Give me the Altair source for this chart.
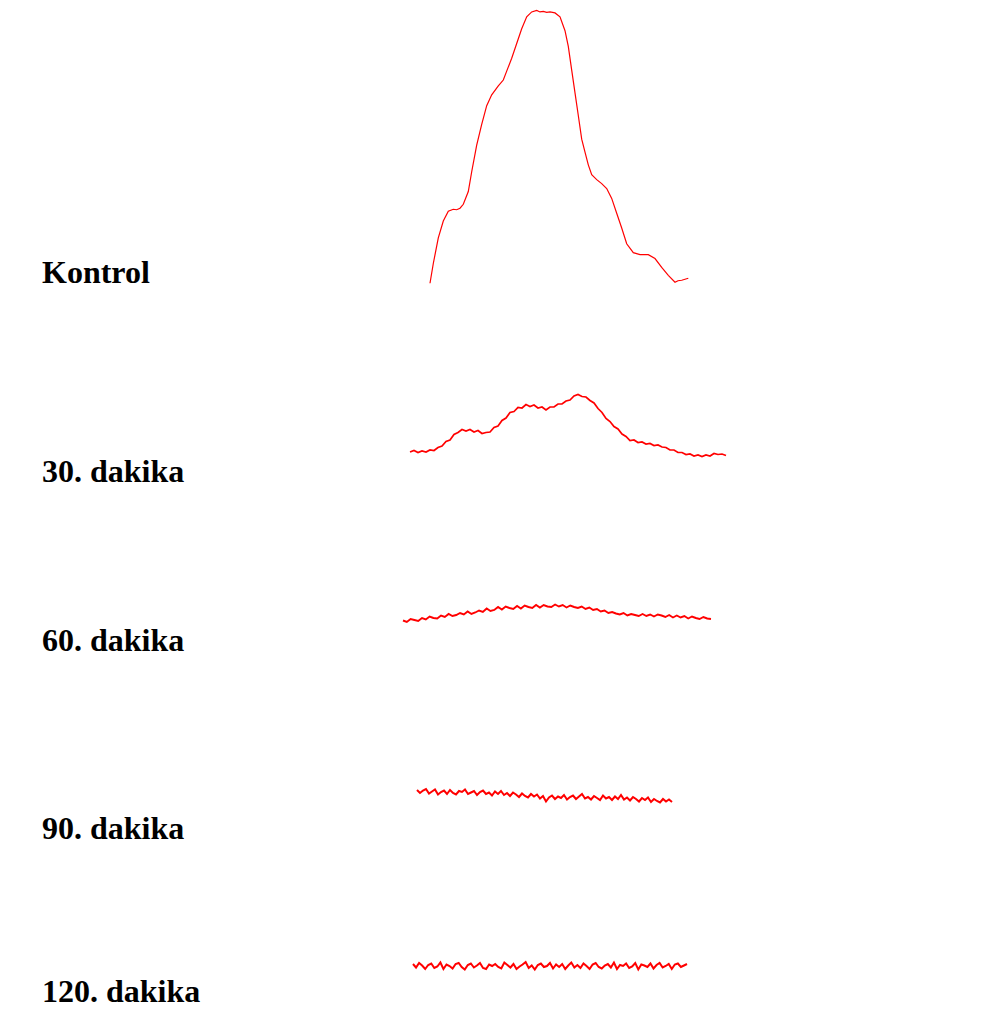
import altair as alt
import pandas as pd

# Labels of the five densitometric profiles
labels = ["Kontrol", "30. dakika", "60. dakika", "90. dakika", "120. dakika"]

# Kontrol profile: track position (mm) and intensity (a.u.)
kontrol_x = [42.2, 42.53, 43.03, 43.53, 44.03, 44.53, 44.87, 45.2, 45.53, 46.03,
             46.37, 46.87, 47.37, 47.87, 48.37, 49.03, 49.53, 49.87, 50.37, 50.87,
             51.37, 51.87, 52.37, 52.87, 53.2, 53.53, 53.87, 54.2, 54.7, 55.2,
             55.7, 56.03, 56.37, 56.7, 57.03, 57.37, 57.7, 58.03, 58.37, 58.87,
             59.37, 59.87, 60.37, 60.87, 61.37, 61.87, 62.53, 63.2, 64.03, 64.7,
             65.37, 66.03, 66.7, 67.0, 67.37, 67.7, 68.03]
kontrol_y = [0, 20, 46, 63, 73, 75, 74.5, 76, 80, 93,
             113, 140, 161, 180, 191, 200, 206, 215, 228, 243,
             258, 270, 275, 276.5, 275, 275.5, 274.5, 275, 274, 270,
             256, 240, 216, 193, 170, 146, 133, 120, 110, 105,
             101, 96, 86, 71, 56, 40, 31, 29, 29, 25,
             16, 8, 1, 2.5, 3, 4, 5]

# Evenly sampled scans: (start mm, end mm) and intensity readings
d30_span = (40.2, 71.8)
d30_y = [4, 5.5, 3.5, 5, 4, 6, 5.5, 8.5, 10, 14.5, 16, 21.5, 23.5, 26.5, 25, 26.5,
         24, 25.5, 22.5, 23.5, 24, 28.5, 30, 35.5, 38, 43.5, 44.5, 48.5, 48, 51.5,
         49.5, 51, 48, 49, 46, 49, 49, 52, 52, 55, 56, 60, 61.5, 59.5, 59, 55.5,
         53, 47.5, 43.5, 37.5, 34.5, 29.5, 27, 22, 19.5, 15.5, 16, 13.5, 14, 12,
         12.5, 10.5, 11, 9, 8.5, 6, 6, 3.5, 3.5, 1.5, 2, 0, 1, -0.5, 1, 0, 2.5,
         1.5, 2, 0.5]

d60_span = (39.5, 70.3)
d60_y = [0.5, -1, 2, 1, 0, 3, 1.5, 4.5, 3, 2.5, 5.5, 4, 7, 5, 6, 8, 6.5, 9.5, 7,
         8.5, 10.5, 9, 12.5, 10, 11, 14, 11.5, 14.5, 13, 12, 15, 12.5, 15.5, 14,
         13, 16, 13.5, 16, 14.5, 14, 16.5, 14.5, 16, 13.5, 15.5, 14, 13, 14.5, 12,
         13.5, 11, 12, 9.5, 10.5, 8, 9, 7.5, 6.5, 8, 5.5, 7, 6, 5, 7, 5, 6.5, 4.5,
         6.5, 5.5, 4, 6, 3.5, 5.5, 3.5, 5, 2.5, 4.5, 3, 2, 4, 2.5, 2]

d90_span = (40.9, 66.4)
d90_y = [12, 9, 11.5, 13, 8.5, 10.5, 12.5, 7.5, 10, 11.5, 8, 12, 9, 7.5, 11, 10,
         12.5, 8, 9.5, 11, 7, 10, 11.5, 8, 9.5, 6.5, 10.5, 8, 11, 7, 9, 6, 9.5,
         7.5, 5, 8.5, 6, 4.5, 8, 5.5, 7.5, 3.5, 6, 0.5, 4.5, 6.5, 3, 5.5, 4, 7,
         2.5, 5, 6.5, 3, 5.5, 8, 3.5, 5, 2.5, 6, 4, 2, 6.5, 3.5, 5, 2, 5.5, 3, 7,
         2.5, 4.5, 1.5, 5, 3, 0.5, 4, 2, 4.5, 0, 3, 1, -0.5, 3, 0.5, 2.5, 0]

d120_span = (40.5, 67.9)
d120_y = [2, -1.5, 3, 0.5, -3, 1, 2.5, -2, -0.5, 3.5, -3, 1.5, 0, -2.5, 2, 3,
          -1, -3.5, 1, 2.5, -1.5, 0.5, 3, -2, -3, 1.5, 0, 2, -1, -2.5, 3.5, 1,
          -1.5, 2, -3, -0.5, 1.5, 4, -2, 0.5, -3.5, 1, 2.5, -1, 0, 3, -2.5, 1.5,
          -1, 2, -3, 0.5, 3.5, -1.5, 1, -2, 2.5, 0, -3, 1.5, 3, -1, -2.5, 0.5,
          2, -1.5, 3.5, -3, 1, 0, 2.5, -2, -0.5, 3, -3.5, 1.5, 0.5, -1, 2.5,
          -2.5, 1, 3, -1.5, 0, 2, -3, 1.5, 2.5, -1, 0.5, 2]


def even_positions(span, vals):
    n = len(vals)
    step = (span[1] - span[0]) / (n - 1)
    return [span[0] + i * step for i in range(n)]


profiles = [
    (kontrol_x, kontrol_y),
    (even_positions(d30_span, d30_y), d30_y),
    (even_positions(d60_span, d60_y), d60_y),
    (even_positions(d90_span, d90_y), d90_y),
    (even_positions(d120_span, d120_y), d120_y),
]

# layout: panel height, y-domain, label baseline (px in panel), stroke width
layout = [
    (292, [-17, 279], 275, 1.2),
    (190, [-34, 156], 182, 1.7),
    (190, [-59, 131], 161, 1.9),
    (190, [-68, 122], 159, 2.0),
    (138, [-42, 96], 132, 2.0),
]

panels = []
for label, (xs, ys), (h, dom, ly, sw) in zip(labels, profiles, layout):
    df = pd.DataFrame({"x": xs, "y": ys})
    line = alt.Chart(df).mark_line(color="#ff0000", strokeWidth=sw).encode(
        x=alt.X("x:Q", scale=alt.Scale(domain=[0, 96.9]), axis=None),
        y=alt.Y("y:Q", scale=alt.Scale(domain=dom), axis=None),
    )
    text = alt.Chart(pd.DataFrame({"t": [label]})).mark_text(
        font="Liberation Serif", fontWeight="bold", fontSize=32,
        align="left", baseline="alphabetic", color="black",
    ).encode(text="t:N", x=alt.value(34), y=alt.value(ly))
    panels.append(alt.layer(line, text).properties(width=969, height=h))

chart = alt.vconcat(*panels, spacing=0).resolve_scale(
    y="independent"
).properties(padding=0, background="white").configure_view(stroke=None)

chart.save("out.html", embed_options={"renderer": "svg", "actions": False})
